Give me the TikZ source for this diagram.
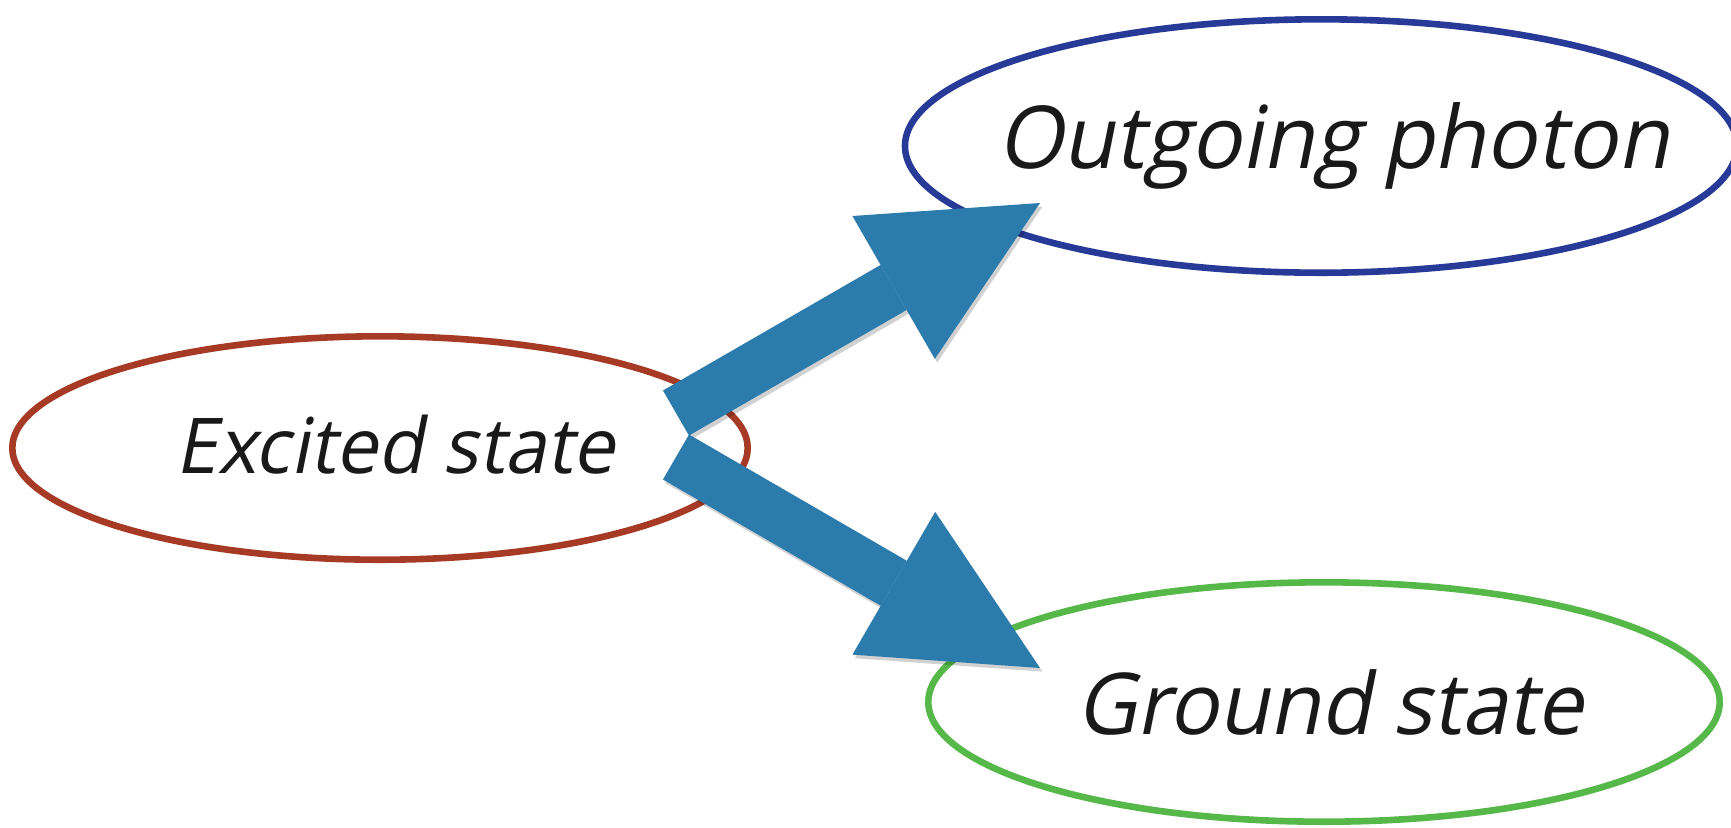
\documentclass[tikz,border=0pt]{standalone}
\usepackage{fontspec}
\newfontfamily\statefont[FakeSlant=0.2, FakeStretch=0.97]{Open Sans}
\usepackage{xcolor}
\definecolor{excitedred}{HTML}{A63A24}
\definecolor{photonblue}{HTML}{273A97}
\definecolor{groundgreen}{HTML}{55B848}
\definecolor{arrowblue}{HTML}{2B7BAD}
\usetikzlibrary{shapes.geometric, arrows.meta, positioning, calc}

\newcommand{\statetext}[3]{% size, right shift, text
  \makebox[0pt]{\statefont\fontsize{#1}{#1}\selectfont\hspace*{#2}#3}}

\begin{document}
\begin{tikzpicture}[
  x=0.5pt, y=-0.5pt,
  statenode/.style={ellipse, line width=3.3pt, fill=white,
    inner sep=0pt, align=center, text=black!90},
  bigarrow/.style={line width=26pt, color=arrowblue,
    -{Triangle[length=84.5pt, width=82.5pt, line width=0pt]}},
  arrowshadow/.style={bigarrow, color=black}
]
  \useasboundingbox (0,0) rectangle (1731,827);

  % the three states
  \node[statenode, draw=excitedred,
    minimum width=367.7pt, minimum height=111.7pt] (excited) at (380,448)
    {\raisebox{3.5pt}{\statetext{38.5}{15pt}{Excited state}}};
  \node[statenode, draw=photonblue,
    minimum width=416pt, minimum height=126.7pt] (photon) at (1321,146)
    {\raisebox{1.5pt}{\statetext{43.4}{12pt}{Outgoing photon}}};
  \node[statenode, draw=groundgreen,
    minimum width=395.7pt, minimum height=119.7pt] (ground) at (1324,702)
    {\statetext{42.7}{6pt}{Ground state}};

  % arrow ends
  \coordinate (emitUp)   at (676,413);
  \coordinate (emitDown) at (676,457);
  \coordinate (photonTip) at (1040,203);
  \coordinate (groundTip) at (1040,668);

  % shadows
  \begin{scope}[transparency group, opacity=0.18,
      transform canvas={shift={(1.2pt,-1.8pt)}}]
    \draw[arrowshadow] (emitUp) -- (photonTip);
    \draw[arrowshadow] (emitDown) -- (groundTip);
  \end{scope}

  \draw[bigarrow] (emitUp) -- (photonTip);
  \draw[bigarrow] (emitDown) -- (groundTip);
\end{tikzpicture}
\end{document}
